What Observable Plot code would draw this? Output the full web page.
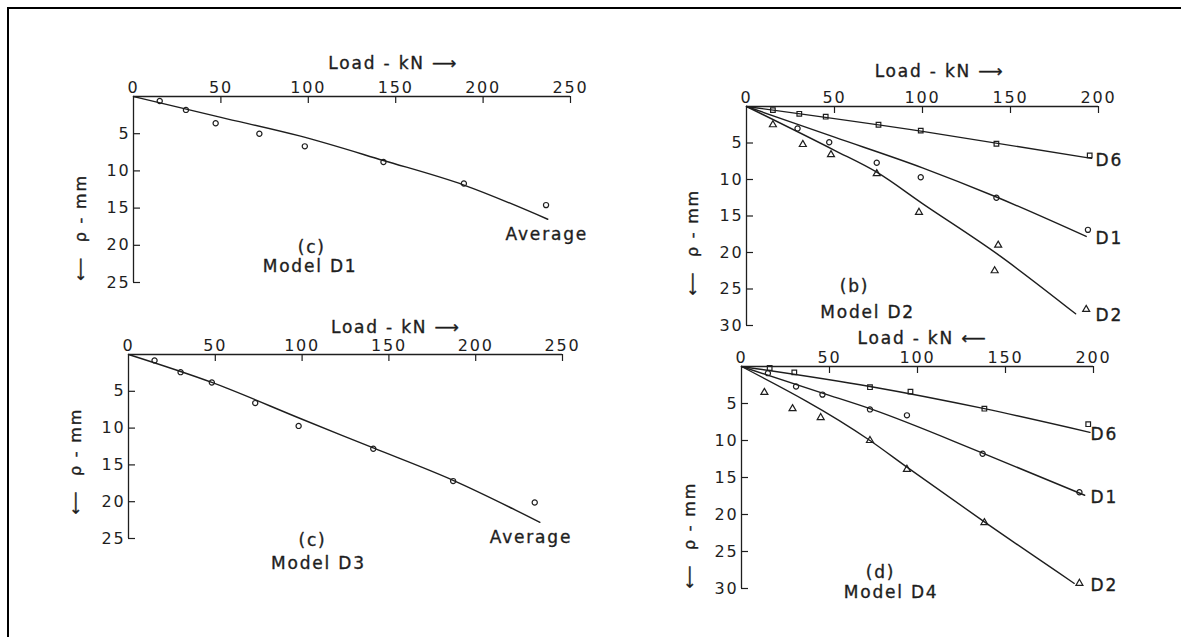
<!DOCTYPE html>
<html>
<head>
<meta charset="utf-8">
<script src="https://cdn.jsdelivr.net/npm/d3@7"></script>
<script src="https://cdn.jsdelivr.net/npm/@observablehq/plot@0.6"></script>
<style>
  body { margin: 0; background: #fff; }
  #root { position: relative; width: 1181px; height: 637px; overflow: hidden; background: #fff; }
  #frame { position: absolute; left: 7px; top: 7px; width: 1190px; height: 650px;
           border-top: 2px solid #000; border-left: 2px solid #000; }
  .panel { position: absolute; }
</style>
</head>
<body>
<div id="root"><div id="frame"></div></div>
<script>
// ---------------- tick values ----------------
const loadTicks250 = [0, 50, 100, 150, 200, 250];
const loadTicks200 = [0, 50, 100, 150, 200];
const settleTicks25 = [5, 10, 15, 20, 25];
const settleTicks30 = [5, 10, 15, 20, 25, 30];

// ---------------- text ----------------
const loadTitle = "Load - kN \u27f6";
const loadTitleLeft = "Load - kN \u27f5";
const settleTitle = "\u27f5  \u03c1 - mm";
const seriesNames = ["D6", "D1", "D2", "Average"];
const seriesSymbols = ["square", "circle", "triangle", "circle"];

// ---------------- Model D1 (average) ----------------
const m1Load = [15, 30, 47, 72, 98, 143, 189, 236];
const m1Settle = [0.6, 1.8, 3.6, 5.0, 6.7, 8.8, 11.7, 14.6];
const m1CurveLoad = [0, 50, 95, 143, 189, 237];
const m1CurveSettle = [0, 2.8, 5.3, 8.6, 11.9, 16.5];

// ---------------- Model D2 ----------------
const m2D6Load = [15, 30, 45, 75, 99, 142, 195];
const m2D6Settle = [0.5, 1.0, 1.4, 2.5, 3.3, 5.1, 6.7];
const m2D6CurveLoad = [0, 100, 196];
const m2D6CurveSettle = [0, 3.4, 7.1];
const m2D1Load = [29, 47, 74, 99, 142, 194];
const m2D1Settle = [3.0, 4.9, 7.7, 9.7, 12.5, 16.9];
const m2D1CurveLoad = [0, 50, 100, 142, 193];
const m2D1CurveSettle = [0, 4.2, 8.4, 12.4, 17.8];
const m2D2Load = [15, 32, 48, 74, 98, 143, 141, 193];
const m2D2Settle = [2.5, 5.2, 6.6, 9.2, 14.5, 19.0, 22.5, 27.8];
const m2D2CurveLoad = [0, 50, 74, 100, 143, 187];
const m2D2CurveSettle = [0, 6.0, 9.0, 13.3, 20.3, 28.4];

// ---------------- Model D3 (average) ----------------
const m3Load = [15, 30, 48, 73, 98, 141, 187, 234];
const m3Settle = [0.8, 2.4, 3.8, 6.6, 9.7, 12.8, 17.2, 20.1];
const m3CurveLoad = [0, 48, 100, 141, 187, 237];
const m3CurveSettle = [0, 3.8, 8.8, 12.7, 17.1, 22.8];

// ---------------- Model D4 ----------------
const m4D6Load = [16, 30, 73, 96, 138, 197];
const m4D6Settle = [0.2, 0.8, 2.8, 3.4, 5.7, 7.8];
const m4D6CurveLoad = [0, 73, 138, 198];
const m4D6CurveSettle = [0, 2.7, 5.7, 8.9];
const m4D1Load = [15, 31, 46, 73, 94, 137, 192];
const m4D1Settle = [0.9, 2.7, 3.8, 5.8, 6.6, 11.8, 17.0];
const m4D1CurveLoad = [0, 46, 73, 137, 195];
const m4D1CurveSettle = [0, 3.6, 5.7, 11.7, 17.4];
const m4D2Load = [13, 29, 45, 73, 94, 138, 192];
const m4D2Settle = [3.5, 5.7, 6.9, 10.0, 13.9, 21.1, 29.3];
const m4D2CurveLoad = [0, 73, 94, 138, 189];
const m4D2CurveSettle = [0, 10.0, 13.6, 21.0, 29.3];

// ---------------- helpers ----------------
const INK = "#1e1e1e";
const FONT = "'DejaVu Sans', sans-serif";
const rows = (series, loads, settles) => loads.map((load, i) => ({series, load, settle: settles[i]}));

function panel(cfg) {
  const pxX = (cfg.width - cfg.ml - cfg.mr) / cfg.xMax;
  const pxY = (cfg.height - cfg.mt - cfg.mb) / cfg.yMax;
  const txt = {fontSize: 16, fill: INK, fontFamily: FONT, stroke: INK, strokeWidth: 0.35};
  const big = {...txt, fontSize: 17};
  const marks = [
    Plot.ruleY([0], {x1: 0, x2: cfg.xMax, stroke: INK, strokeWidth: 1.3}),
    Plot.ruleX([0], {y1: 0, y2: cfg.yMax, stroke: INK, strokeWidth: 1.3}),
    Plot.ruleX(cfg.xTicks.filter(d => d > 0), {x: d => d, y1: 0, y2: 7 / pxY, stroke: INK, strokeWidth: 1.2}),
    Plot.ruleY(cfg.yTicks, {y: d => d, x1: 0, x2: 7 / pxX, stroke: INK, strokeWidth: 1.2}),
    Plot.axisX(cfg.xTicks, {anchor: "top", tickSize: 0, tickPadding: 4, label: null, ...txt}),
    Plot.axisY(cfg.yTicks, {anchor: "left", tickSize: 0, tickPadding: 3, label: null, ...txt}),
    Plot.line(cfg.curves, {x: "load", y: "settle", z: "series", curve: "monotone-x", stroke: INK, strokeWidth: 1.4}),
    Plot.dot(cfg.points, {x: "load", y: "settle", symbol: "series", r: 2.6, fill: "none", stroke: INK, strokeWidth: 1.2}),
    Plot.text([cfg.title], {x: cfg.titleAt[0], y: cfg.titleAt[1], text: d => d, ...big}),
    Plot.text([settleTitle], {x: cfg.yLabelAt[0], y: cfg.yLabelAt[1], text: d => d, rotate: -90, ...txt}),
    Plot.text(cfg.notes, {x: "x", y: "y", text: "text", ...big})
  ];
  if (cfg.average) {
    marks.push(Plot.text(cfg.curves, Plot.selectLast({x: "load", y: "settle", text: "series",
      dx: cfg.avgOffset[0], dy: cfg.avgOffset[1], ...big})));
  } else {
    marks.push(Plot.text(cfg.curves, Plot.selectLast({x: cfg.xMax, y: "settle", z: "series", text: "series",
      textAnchor: "start", dx: -3, dy: 2, ...big})));
  }
  const chart = Plot.plot({
    width: cfg.width, height: cfg.height,
    marginLeft: cfg.ml, marginRight: cfg.mr, marginTop: cfg.mt, marginBottom: cfg.mb,
    x: {domain: [0, cfg.xMax]},
    y: {domain: [0, cfg.yMax], reverse: true},
    symbol: {domain: seriesNames, range: seriesSymbols},
    style: {fontFamily: FONT, fontSize: "16px", color: INK, background: "transparent", overflow: "visible", letterSpacing: "1.8px"},
    marks
  });
  chart.classList.add("panel");
  chart.style.left = cfg.left + "px";
  chart.style.top = cfg.top + "px";
  document.getElementById("root").appendChild(chart);
}

// ---------------- panels ----------------
panel({
  left: 10, top: 10, width: 580, height: 290, ml: 123, mr: 20, mt: 86, mb: 18,
  xMax: 250, yMax: 25, xTicks: loadTicks250, yTicks: settleTicks25,
  points: rows("Average", m1Load, m1Settle),
  curves: rows("Average", m1CurveLoad, m1CurveSettle),
  average: true, avgOffset: [-1, 15],
  title: loadTitle, titleAt: [148.6, -4.4], yLabelAt: [-30.3, 17.6],
  notes: [{text: "(c)", x: 102, y: 20.3}, {text: "Model D1", x: 101, y: 22.9}]
});

panel({
  left: 590, top: 10, width: 591, height: 322, ml: 156, mr: 83, mt: 96, mb: 7,
  xMax: 200, yMax: 30, xTicks: loadTicks200, yTicks: settleTicks30,
  points: [...rows("D6", m2D6Load, m2D6Settle), ...rows("D1", m2D1Load, m2D1Settle), ...rows("D2", m2D2Load, m2D2Settle)],
  curves: [...rows("D6", m2D6CurveLoad, m2D6CurveSettle), ...rows("D1", m2D1CurveLoad, m2D1CurveSettle), ...rows("D2", m2D2CurveLoad, m2D2CurveSettle)],
  average: false,
  title: loadTitle, titleAt: [109.7, -4.8], yLabelAt: [-30.7, 18.6],
  notes: [{text: "(b)", x: 61.4, y: 24.7}, {text: "Model D2", x: 68.8, y: 28.2}]
});

panel({
  left: 10, top: 300, width: 580, height: 337, ml: 118, mr: 28, mt: 54, mb: 99,
  xMax: 250, yMax: 25, xTicks: loadTicks250, yTicks: settleTicks25,
  points: rows("Average", m3Load, m3Settle),
  curves: rows("Average", m3CurveLoad, m3CurveSettle),
  average: true, avgOffset: [-9, 15],
  title: loadTitle, titleAt: [154, -3.7], yLabelAt: [-30.5, 14.5],
  notes: [{text: "(c)", x: 106, y: 25.3}, {text: "Model D3", x: 109.4, y: 28.4}]
});

panel({
  left: 590, top: 332, width: 591, height: 305, ml: 151, mr: 88, mt: 34, mb: 49,
  xMax: 200, yMax: 30, xTicks: loadTicks200, yTicks: settleTicks30,
  points: [...rows("D6", m4D6Load, m4D6Settle), ...rows("D1", m4D1Load, m4D1Settle), ...rows("D2", m4D2Load, m4D2Settle)],
  curves: [...rows("D6", m4D6CurveLoad, m4D6CurveSettle), ...rows("D1", m4D1CurveLoad, m4D1CurveSettle), ...rows("D2", m4D2CurveLoad, m4D2CurveSettle)],
  average: false,
  title: loadTitleLeft, titleAt: [102.8, -3.75], yLabelAt: [-29.5, 22.8],
  notes: [{text: "(d)", x: 79, y: 27.8}, {text: "Model D4", x: 85, y: 30.5}]
});
</script>
</body>
</html>
